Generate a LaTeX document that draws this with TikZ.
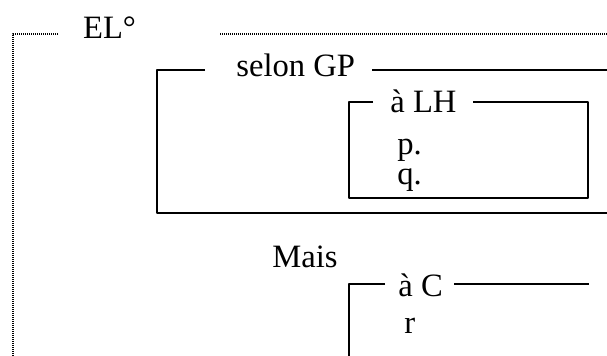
\documentclass[tikz,border=0pt]{standalone}
\usepackage{fontspec}
\setmainfont{Liberation Serif}
\usepackage{tikz}

\begin{document}
\begin{tikzpicture}[x=0.5pt, y=-0.5pt, line join = round,
    dotline/.style={line width=0.6pt, dash pattern=on 0.5pt off 0.5pt, black},
    frameline/.style={line width=1pt},
    word/.style={anchor=base west, inner sep=0pt, font=\fontsize{16.3}{19}\selectfont}]

    \useasboundingbox (0,0) rectangle (607,356);

    % outer frame (EL)
    \coordinate (o0) at (58,34);
    \coordinate (o1) at (13,34);
    \coordinate (o2) at (13,356);
    \coordinate (o3) at (220,34);
    \coordinate (o4) at (607,34);
    % selon GP
    \coordinate (g0) at (205,70);
    \coordinate (g1) at (157,70);
    \coordinate (g2) at (157,213);
    \coordinate (g3) at (607,213);
    \coordinate (g4) at (372,70);
    \coordinate (g5) at (607,70);
    % a LH
    \coordinate (h0) at (373,102);
    \coordinate (h1) at (349,102);
    \coordinate (h2) at (349,198);
    \coordinate (h3) at (588,198);
    \coordinate (h4) at (588,102);
    \coordinate (h5) at (473,102);
    % a C
    \coordinate (c0) at (385,284);
    \coordinate (c1) at (349,284);
    \coordinate (c2) at (349,356);
    \coordinate (c3) at (454,284);
    \coordinate (c4) at (589,284);

    % texts
    \node[word] (el) at (82.7,39) {EL°};
    \node[word] (selon) at (236,76.5) {selon GP};
    \node[word] (lh) at (390,113) {à LH};
    \node[word] (p) at (397,154.5) {p.};
    \node[word] (q) at (397,185) {q.};
    \node[word] (mais) at (272,268) {Mais};
    \node[word] (ac) at (398,297) {à C};
    \node[word] (r) at (404,334) {r};

    % frames
    \draw[dotline] (o0) -- (o1) -- (o2);
    \draw[dotline] (o3) -- (o4);
    \draw[frameline] (g0) -- (g1) -- (g2) -- (g3);
    \draw[frameline] (g4) -- (g5);
    \draw[frameline] (h0) -- (h1) -- (h2) -- (h3) -- (h4) -- (h5);
    \draw[frameline] (c0) -- (c1) -- (c2);
    \draw[frameline] (c3) -- (c4);

\end{tikzpicture}
\end{document}
